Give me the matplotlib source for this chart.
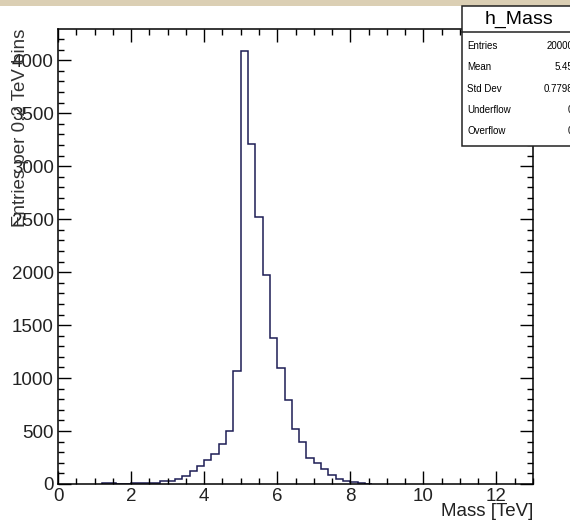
import matplotlib.pyplot as plt
from matplotlib.patches import Rectangle
from matplotlib.ticker import MultipleLocator

plt.rcParams['font.family'] = ['Liberation Sans', 'DejaVu Sans']

# Histogram contents (0.2 TeV bins), low edge of each bin and its entries
bin_low = [1.2, 1.4, 1.6, 1.8, 2.0, 2.2, 2.4, 2.6, 2.8, 3.0,
           3.2, 3.4, 3.6, 3.8, 4.0, 4.2, 4.4, 4.6, 4.8, 5.0,
           5.2, 5.4, 5.6, 5.8, 6.0, 6.2, 6.4, 6.6, 6.8, 7.0,
           7.2, 7.4, 7.6, 7.8, 8.0, 8.2, 8.4]
counts = [5, 5, 0, 4, 5, 5, 6, 7, 30, 33,
          51, 76, 118, 172, 229, 286, 378, 500, 1066, 4090,
          3208, 2522, 1972, 1381, 1091, 793, 518, 398, 242, 197,
          137, 89, 51, 25, 19, 8, 4]
bin_width = 0.2

x_ticks = [0, 2, 4, 6, 8, 10, 12]
y_ticks = [0, 500, 1000, 1500, 2000, 2500, 3000, 3500, 4000]

stat_names = ['Entries', 'Mean', 'Std Dev', 'Underflow', 'Overflow']
stat_values = ['20000', '5.45', '0.7798', '0', '0']

edges = bin_low + [round(bin_low[-1] + bin_width, 1)]

W, H = 570, 526
fig = plt.figure(figsize=(W / 100, H / 100), dpi=100)

# beige strip at the very top of the screenshot
fig.patches.append(Rectangle((0, 1 - 6 / H), 1, 6 / H, transform=fig.transFigure,
                             facecolor='#dbcfb4', edgecolor='none'))

ax = fig.add_axes([58 / W, 1 - 484 / H, 475 / W, 455 / H])
ax.stairs(counts, edges, color='#1c1c55', linewidth=1.1)

ax.set_xlim(0, 13)
ax.set_ylim(0, 4295)
ax.set_xticks(x_ticks)
ax.set_yticks(y_ticks)
ax.xaxis.set_minor_locator(MultipleLocator(0.5))
ax.yaxis.set_minor_locator(MultipleLocator(100))
ax.tick_params(which='both', direction='in', top=True, right=True,
               labelsize=13.5, labelcolor='#222222', width=1)
ax.tick_params(which='major', length=9.5, pad=3)
ax.tick_params(which='minor', length=4.5)
for s in ax.spines.values():
    s.set_linewidth(1.1)

fig.text(21 / W, 1 - 29 / H, 'Entries per 0.2 TeV bins', rotation=90,
         ha='center', va='top', fontsize=13.5, color='#333333')
fig.text(533 / W, 1 - 511 / H, 'Mass [TeV]', ha='right', va='center',
         fontsize=13.5, color='#222222')

# statistics box, cut by the right edge of the picture
box_l, box_top, box_sep, box_bot = 462, 6, 32, 146
fig.patches.append(Rectangle((box_l / W, 1 - box_bot / H), 0.3, (box_bot - box_top) / H,
                             transform=fig.transFigure, facecolor='white',
                             edgecolor='#222222', linewidth=1.1))
fig.lines.append(plt.Line2D([box_l / W, 1.1], [1 - box_sep / H] * 2,
                            transform=fig.transFigure, color='#222222', linewidth=1.1))
fig.text(519 / W, 1 - 19 / H, 'h_Mass', ha='center', va='center', fontsize=14)
row_y = [46, 67, 89, 110, 131]
for name, val, y in zip(stat_names, stat_values, row_y):
    fig.text(467 / W, 1 - y / H, name, ha='left', va='center', fontsize=7)
    fig.text(573 / W, 1 - y / H, val, ha='right', va='center', fontsize=7)

fig.savefig('out.png', dpi=100)
